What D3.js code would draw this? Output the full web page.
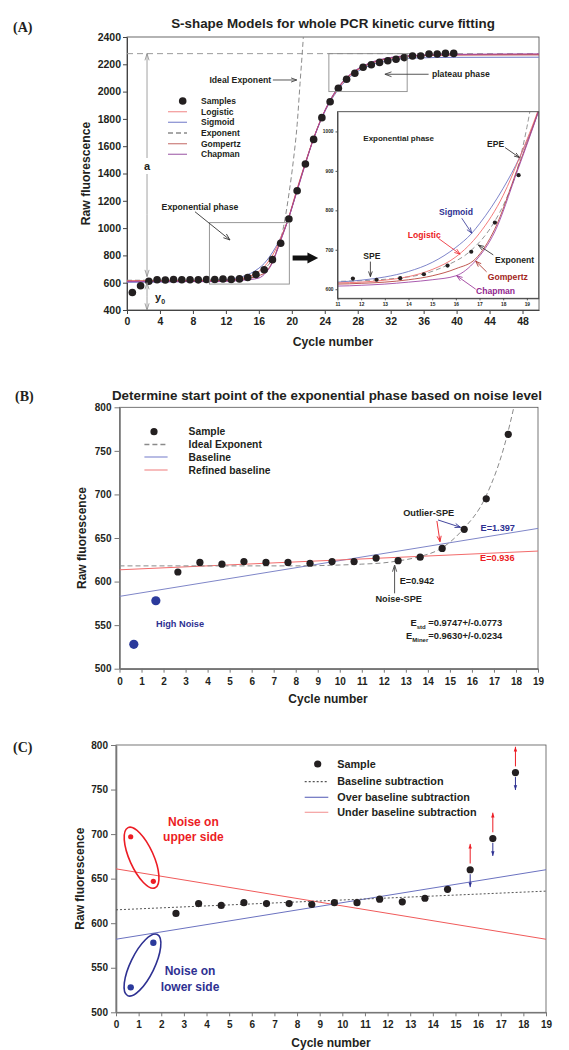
<!DOCTYPE html>
<html><head><meta charset="utf-8">
<script src="https://cdn.jsdelivr.net/npm/d3@7/dist/d3.min.js"></script>
<style>html,body{margin:0;padding:0;background:#fff}</style>
</head><body>
<script>
// ================= DATA =================
// plotted cycle positions of the samples and their raw fluorescence
const cyclePos = [0.65,1.65,2.65,3.65,4.65,5.65,6.65,7.65,8.65,9.65,10.65,11.65,12.65,13.65,14.65,15.65,16.65,17.65,18.65,19.65,20.65,21.65,22.65,23.65,24.65,25.65,26.65,27.65,28.65,29.65,30.65,31.65,32.65,33.65,34.65,35.65,36.65,37.65,38.65,39.65];
const fluorescence = [528,578,611,622,620,623,622,622,621,623,623,627,624,628,638,660,695,769,889,1067,1274,1470,1650,1809,1926,2024,2090,2134,2178,2197,2214,2226,2237,2249,2261,2261,2275,2275,2280,2280];

// fitted model curves [cycle, fluorescence]
const logisticFit = [[0,614],[6,614],[10,615],[11,616],[12,618],[13,623],[14,632],[15,650],[16,682],[17,742],[18,838],[18.7,935],[19.5,1058],[20.65,1290],[21.65,1480],[22.65,1660],[23.65,1812],[24.65,1932],[25.65,2025],[26.65,2095],[27.65,2145],[28.65,2182],[30,2215],[32,2245],[35,2263],[40,2271],[50,2273]];
const sigmoidFit = [[0,603],[6,607],[10,614],[11,618],[12,623],[13,631],[14,645],[15,668],[16,706],[16.66,741],[17,766],[18,856],[18.7,935],[19.5,1052],[20.65,1282],[21.65,1478],[22.65,1655],[23.65,1805],[24.65,1925],[25.65,2015],[26.65,2085],[27.65,2135],[28.65,2170],[30,2203],[32,2232],[35,2246],[40,2251],[50,2252]];
const gompertzFit = [[0,611],[6,612],[10,613],[11,613],[12,615],[13,618],[14,624],[15,634],[16,652],[16.83,677],[17.64,752],[18.57,900],[19.5,1054],[20.65,1278],[21.65,1474],[22.65,1657],[23.65,1812],[24.65,1935],[25.65,2030],[26.65,2100],[27.65,2150],[28.65,2185],[30,2218],[32,2246],[35,2262],[40,2268],[50,2269]];
const chapmanFit = [[0,608],[6,608],[10,608],[11,608],[12,610],[13,613],[14,618],[15,624],[16,634],[16.83,672],[17.64,745],[18.57,895],[19.5,1052],[20.65,1272],[21.65,1470],[22.65,1655],[23.65,1812],[24.65,1938],[25.65,2033],[26.65,2103],[27.65,2153],[28.65,2188],[30,2222],[32,2250],[35,2266],[40,2273],[50,2276]];
const exponentFit = [[0,618],[8,618],[10,619],[11,620],[12,621.5],[12.6,623.5],[13.6,628.5],[14.6,638],[15.6,660],[16.6,696],[17.6,768],[18.1,825],[18.6,905],[19,1010],[19.65,1250],[20.2,1500],[20.65,1760],[21.0,2060],[21.4,2400],[21.6,2600]];
const plateauLevel = 2278;

// panel B / C straight lines [cycle, fluorescence]
const baselineB = [[0,583],[19,661]];
const refinedBaselineB = [[0,613.5],[19,635]];
const baselineSubC = [[0,615],[19,636]];
const overSubC = [[0,582],[19,660]];
const underSubC = [[0,661],[19,582]];
const upperNoiseC = [697,647];   // noise on upper side (cycles 1-2)
const arrowIdxC = [15,16,17];     // samples marked with up/down arrows

// tick labels
const xTicksA = [0,4,8,12,16,20,24,28,32,36,40,44,48];
const yTicksA = [400,600,800,1000,1200,1400,1600,1800,2000,2200,2400];
const xTicksInset = [11,12,13,14,15,16,17,18,19];
const yTicksInset = [600,700,800,900,1000];
const xTicksBC = [0,1,2,3,4,5,6,7,8,9,10,11,12,13,14,15,16,17,18,19];
const yTicksBC = [500,550,600,650,700,750,800];

// ================= HELPERS =================
const FONT = "'Liberation Sans', Arial, Helvetica, sans-serif";
const SERIF = "'Liberation Serif', 'Times New Roman', serif";
const INK = "#231f20";
const RED = "#ec1c24", BLUE = "#2e3192", BROWN = "#a3261c", PURPLE = "#92278f";
const fmt = d3.format("d");

const svg = d3.select("body").append("svg").attr("width",569).attr("height",1050)
  .style("display","block").style("background","#fff");
const defs = svg.append("defs");

function txt(g, x, y, s, o = {}) {
  return g.append("text").attr("x", x).attr("y", y).attr("dy", o.dy ?? "0.35em")
    .attr("font-family", o.family || FONT).attr("font-weight", o.weight || "bold")
    .attr("font-size", o.size || 10).attr("fill", o.color || INK)
    .attr("text-anchor", o.anchor || "start").text(s);
}
function arrow(g, x1, y1, x2, y2, color, o = {}) {
  const w = o.w || 0.9, L = o.head || 6, a = o.ang || 0.42;
  g.append("line").attr("x1",x1).attr("y1",y1).attr("x2",x2).attr("y2",y2)
    .attr("stroke",color).attr("stroke-width",w);
  const t = Math.atan2(y2 - y1, x2 - x1);
  const p1 = [x2 - L*Math.cos(t - a), y2 - L*Math.sin(t - a)];
  const p2 = [x2 - L*Math.cos(t + a), y2 - L*Math.sin(t + a)];
  if (o.filled) {
    g.append("path").attr("d", `M${p1}L${x2},${y2}L${p2}Z`).attr("fill", color);
  } else {
    g.append("path").attr("d", `M${p1}L${x2},${y2}L${p2}`).attr("fill","none")
      .attr("stroke",color).attr("stroke-width",w);
  }
}
function styleAxis(sel, fs, col, w) {
  sel.select(".domain").attr("stroke", col).attr("stroke-width", w);
  sel.selectAll(".tick line").attr("stroke", col).attr("stroke-width", Math.min(w, 1));
  sel.selectAll(".tick text").attr("font-family", FONT).attr("font-weight","bold")
    .attr("font-size", fs).attr("fill", INK);
}
function clipFor(id, x, y) {
  defs.append("clipPath").attr("id", id).append("rect")
    .attr("x", x.range()[0]).attr("y", y.range()[1])
    .attr("width", x.range()[1] - x.range()[0]).attr("height", y.range()[0] - y.range()[1]);
  return `url(#${id})`;
}
function frameRect(g, x, y, col, w) {
  g.append("rect").attr("x", x.range()[0]).attr("y", y.range()[1])
    .attr("width", x.range()[1] - x.range()[0]).attr("height", y.range()[0] - y.range()[1])
    .attr("fill","none").attr("stroke", col).attr("stroke-width", w);
}
const lineOf = (x, y, curve) => d3.line().x(d => x(d[0])).y(d => y(d[1])).curve(curve || d3.curveMonotoneX);

// ================= PANEL A =================
const xA = d3.scaleLinear().domain([0,50]).range([127,539]);
const yA = d3.scaleLinear().domain([400,2400]).range([310,37]);
const gA = svg.append("g");
const clipA = clipFor("clipA", xA, yA);

txt(gA, 13, 27, "(A)", {family: SERIF, size: 14});
txt(gA, 333, 23, "S-shape Models for whole PCR kinetic curve fitting", {size: 13.4, anchor: "middle"});

frameRect(gA, xA, yA, "#444", 0.8);
gA.append("g").attr("transform", `translate(0,${yA.range()[0]})`)
  .call(d3.axisBottom(xA).tickValues(xTicksA).tickFormat(fmt).tickSize(4).tickSizeOuter(0).tickPadding(4))
  .call(s => styleAxis(s, 10.5, "#444", 1));
gA.append("g").attr("transform", `translate(${xA.range()[0]},0)`)
  .call(d3.axisLeft(yA).tickValues(yTicksA).tickFormat(fmt).tickSize(4).tickSizeOuter(0).tickPadding(2))
  .call(s => styleAxis(s, 10.5, "#444", 1));
txt(gA, 333, 342, "Cycle number", {size: 12.2, anchor: "middle"});
txt(gA, 0, 0, "Raw fluorescence", {size: 12.2, anchor: "middle"})
  .attr("transform", `translate(86,${(yA.range()[0] + yA.range()[1]) / 2}) rotate(-90)`);

const models = [
  {name: "Logistic", data: logisticFit, color: "#f26d6d", leg: "#f4a0a0"},
  {name: "Sigmoid", data: sigmoidFit, color: "#7077c4", leg: "#8f96d4"},
  {name: "Exponent", data: exponentFit, color: "#8a8a8a", leg: "#8a8a8a", dash: "5,3"},
  {name: "Gompertz", data: gompertzFit, color: "#b9463f", leg: "#d08a86"},
  {name: "Chapman", data: chapmanFit, color: "#a04aa6", leg: "#b07ab8"}
];
const drawOrder = [2, 1, 0, 3, 4];

const plotA = gA.append("g").attr("clip-path", clipA);
plotA.append("line").attr("x1", xA(0)).attr("x2", xA(50)).attr("y1", yA(plateauLevel)).attr("y2", yA(plateauLevel))
  .attr("stroke", "#9a9a9a").attr("stroke-width", 1).attr("stroke-dasharray", "6,4");
drawOrder.forEach(i => {
  const m = models[i];
  plotA.append("path").attr("d", lineOf(xA, yA)(m.data)).attr("fill","none")
    .attr("stroke", m.color).attr("stroke-width", 1).attr("stroke-dasharray", m.dash || null);
});
plotA.selectAll("circle.s").data(cyclePos).join("circle")
  .attr("cx", d => xA(d)).attr("cy", (d, i) => yA(fluorescence[i])).attr("r", 3.8).attr("fill", INK);

// boxes
const boxStyle = s => s.attr("fill","none").attr("stroke","#8c8c8c").attr("stroke-width",0.9);
gA.append("rect").attr("x", xA(24.5)).attr("y", yA(plateauLevel)).attr("width", xA(34) - xA(24.5))
  .attr("height", yA(2000) - yA(plateauLevel)).call(boxStyle);
gA.append("rect").attr("x", xA(10)).attr("y", yA(1040)).attr("width", xA(19.7) - xA(10))
  .attr("height", yA(590) - yA(1040)).call(boxStyle);

// a and y0 arrows
const ax = xA(2.43);
arrow(gA, ax, yA(1100), ax, yA(plateauLevel), "#8c8c8c", {w: 0.8, head: 7, ang: 0.3});
arrow(gA, ax, yA(1100), ax, yA(645), "#8c8c8c", {w: 0.8, head: 7, ang: 0.3});
gA.append("rect").attr("x", ax - 5).attr("y", yA(1455) - 8).attr("width", 10).attr("height", 16).attr("fill", "#fff");
txt(gA, ax, yA(1455), "a", {size: 11, anchor: "middle"});
arrow(gA, ax, yA(500), ax, yA(600), "#8c8c8c", {w: 0.8, head: 7, ang: 0.3});
arrow(gA, ax, yA(500), ax, yA(400), "#8c8c8c", {w: 0.8, head: 7, ang: 0.3});
const y0t = txt(gA, xA(3.4), yA(495), "y", {size: 11});
y0t.append("tspan").attr("font-size", 7).attr("dy", 3).text("0");

// text annotations A
txt(gA, xA(17.5), yA(2085), "Ideal Exponent", {size: 8.7, anchor: "end"});
arrow(gA, xA(17.7), yA(2085), xA(20.6), yA(2085), "#444", {w: 0.9, head: 6, ang: 0.35});
txt(gA, xA(37), yA(2127), "plateau phase", {size: 8.7});
arrow(gA, xA(36.6), yA(2127), xA(31.3), yA(2127), "#444", {w: 0.9, head: 7, ang: 0.35});
txt(gA, xA(4.2), yA(1157), "Exponential phase", {size: 8.7});
arrow(gA, xA(8.25), yA(1120), xA(12.5), yA(913), "#333", {w: 0.9, head: 7, ang: 0.35});

// big black arrow
{
  const x1 = xA(20.1), x2 = xA(23.2), xm = xA(21.9), yc = yA(781);
  gA.append("path").attr("d", `M${x1},${yc-2.5}L${xm},${yc-2.5}L${xm},${yc-5.5}L${x2},${yc}L${xm},${yc+5.5}L${xm},${yc+2.5}L${x1},${yc+2.5}Z`)
    .attr("fill", "#111");
}

// legend A
{
  const lx0 = 168, lx1 = 187, tx = 201, ys = [101, 111.7, 122.3, 133, 143.7, 154.3];
  gA.append("circle").attr("cx", 182.7).attr("cy", ys[0]).attr("r", 3.8).attr("fill", INK);
  txt(gA, tx, ys[0], "Samples", {size: 8.5});
  models.forEach((m, i) => {
    gA.append("line").attr("x1", lx0).attr("x2", lx1).attr("y1", ys[i+1]).attr("y2", ys[i+1])
      .attr("stroke", m.leg).attr("stroke-width", 1.3).attr("stroke-dasharray", m.dash || null);
    txt(gA, tx, ys[i+1], m.name, {size: 8.5});
  });
}

// ---- inset ----
const xI = d3.scaleLinear().domain([11,19.5]).range([337.5,538.7]);
const yI = d3.scaleLinear().domain([577,1050]).range([298.3,111.7]);
const gI = svg.append("g");
gI.append("rect").attr("x", 337.5).attr("y", 111.7).attr("width", 538.7-337.5).attr("height", 298.3-111.7).attr("fill","#fff");
const clipI = clipFor("clipI", xI, yI);
const plotI = gI.append("g").attr("clip-path", clipI);
drawOrder.forEach(i => {
  const m = models[i];
  plotI.append("path").attr("d", lineOf(xI, yI)(m.data)).attr("fill","none")
    .attr("stroke", m.color).attr("stroke-width", 0.9).attr("stroke-dasharray", m.dash || null);
});
plotI.selectAll("circle").data(cyclePos.filter(c => c > 11 && c < 19.5)).join("circle")
  .attr("cx", d => xI(d)).attr("cy", d => yI(fluorescence[cyclePos.indexOf(d)])).attr("r", 2.1).attr("fill", INK);
frameRect(gI, xI, yI, "#444", 0.9);
gI.append("g").attr("transform", `translate(0,${yI.range()[0]})`)
  .call(d3.axisBottom(xI).tickValues(xTicksInset).tickFormat(fmt).tickSize(2).tickSizeOuter(0).tickPadding(2))
  .call(s => styleAxis(s, 4.8, "#444", 0.9));
gI.append("g").attr("transform", `translate(${xI.range()[0]},0)`)
  .call(d3.axisLeft(yI).tickValues(yTicksInset).tickFormat(fmt).tickSize(2).tickSizeOuter(0).tickPadding(2))
  .call(s => styleAxis(s, 4.8, "#444", 0.9));

txt(gI, xI(12.09), yI(982), "Exponential phase", {size: 8});
txt(gI, xI(17.32), yI(967), "EPE", {size: 8.5});
arrow(gI, xI(18.08), yI(959), xI(18.68), yI(934), INK, {w: 0.8, head: 5.5, ang: 0.35});
txt(gI, xI(15.29), yI(796), "Sigmoid", {size: 8.6, color: BLUE});
arrow(gI, xI(16.25), yI(780), xI(16.67), yI(742), BLUE, {w: 0.8, head: 6, ang: 0.35});
txt(gI, xI(13.97), yI(737), "Logistic", {size: 8.6, color: RED});
arrow(gI, xI(15.26), yI(729), xI(16.18), yI(689), RED, {w: 0.8, head: 6, ang: 0.35});
txt(gI, xI(12.09), yI(685), "SPE", {size: 8.6});
arrow(gI, xI(12.39), yI(670), xI(12.39), yI(632), INK, {w: 0.8, head: 5.5, ang: 0.35});
txt(gI, xI(17.65), yI(674), "Exponent", {size: 8.6});
arrow(gI, xI(17.58), yI(687), xI(16.95), yI(712), INK, {w: 0.8, head: 6, ang: 0.35});
txt(gI, xI(17.35), yI(632), "Gompertz", {size: 8.6, color: BROWN});
arrow(gI, xI(17.3), yI(644), xI(16.84), yI(671), BROWN, {w: 0.8, head: 6, ang: 0.35});
txt(gI, xI(16.85), yI(595.5), "Chapman", {size: 8.6, color: PURPLE});
arrow(gI, xI(16.84), yI(600), xI(16.04), yI(634), PURPLE, {w: 0.8, head: 6, ang: 0.35});

// ================= PANEL B =================
const xB = d3.scaleLinear().domain([0,19]).range([119.5,538]);
const yB = d3.scaleLinear().domain([500,800]).range([668.7,407.3]);
const gB = svg.append("g");
const clipB = clipFor("clipB", xB, yB);
txt(gB, 15, 396, "(B)", {family: SERIF, size: 14});
txt(gB, 327, 395.3, "Determine start point of the exponential phase based on noise level", {size: 13.4, anchor: "middle"});
frameRect(gB, xB, yB, "#555", 0.8);
gB.append("g").attr("transform", `translate(0,${yB.range()[0]})`)
  .call(d3.axisBottom(xB).tickValues(xTicksBC).tickFormat(fmt).tickSize(4).tickSizeOuter(0).tickPadding(5))
  .call(s => styleAxis(s, 10, "#777", 1.6));
gB.append("g").attr("transform", `translate(${xB.range()[0]},0)`)
  .call(d3.axisLeft(yB).tickValues(yTicksBC).tickFormat(fmt).tickSize(5).tickSizeOuter(0).tickPadding(3))
  .call(s => styleAxis(s, 10, "#777", 1.6));
txt(gB, 328, 698.3, "Cycle number", {size: 12, anchor: "middle"});
txt(gB, 0, 0, "Raw fluorescence", {size: 12, anchor: "middle"})
  .attr("transform", `translate(82,${(yB.range()[0] + yB.range()[1]) / 2}) rotate(-90)`);

const plotB = gB.append("g").attr("clip-path", clipB);
plotB.append("path").attr("d", lineOf(xB, yB, d3.curveLinear)(baselineB)).attr("fill","none").attr("stroke","#7f86c8").attr("stroke-width",1);
plotB.append("path").attr("d", lineOf(xB, yB, d3.curveLinear)(refinedBaselineB)).attr("fill","none").attr("stroke","#f26b6b").attr("stroke-width",1);
plotB.append("path").attr("d", lineOf(xB, yB)(exponentFit)).attr("fill","none").attr("stroke","#8a8a8a").attr("stroke-width",1).attr("stroke-dasharray","5,3");
const nB = 18;
plotB.selectAll("circle.b").data(cyclePos.slice(0, nB)).join("circle")
  .attr("cx", d => xB(d)).attr("cy", (d, i) => yB(fluorescence[i]))
  .attr("r", (d, i) => i < 2 ? 4.6 : 3.6).attr("fill", (d, i) => i < 2 ? "#2b3a9c" : INK);

// legend B
{
  const ys = [431.7, 444.5, 457, 470];
  gB.append("circle").attr("cx", 154).attr("cy", ys[0]).attr("r", 3.6).attr("fill", INK);
  txt(gB, 188.6, ys[0], "Sample", {size: 10.3});
  const items = [["Ideal Exponent", "#8a8a8a", "5,3"], ["Baseline", "#9aa0d8", null], ["Refined baseline", "#f4a0a0", null]];
  items.forEach((it, i) => {
    gB.append("line").attr("x1", 144.4).attr("x2", 167.6).attr("y1", ys[i+1]).attr("y2", ys[i+1])
      .attr("stroke", it[1]).attr("stroke-width", 1.4).attr("stroke-dasharray", it[2]);
    txt(gB, 188.6, ys[i+1], it[0], {size: 10.3});
  });
}
// annotations B
txt(gB, xB(12.88), yB(679), "Outlier-SPE", {size: 9.2});
arrow(gB, xB(14.41), yB(669.5), xB(14.55), yB(645.8), RED, {w: 0.9, head: 6, ang: 0.35});
arrow(gB, xB(14.46), yB(670.7), xB(15.48), yB(662.3), BLUE, {w: 0.9, head: 6, ang: 0.35});
txt(gB, xB(16.39), yB(662.3), "E=1.397", {size: 9.2, color: BLUE});
txt(gB, xB(16.37), yB(627.4), "E=0.936", {size: 9.2, color: RED});
txt(gB, xB(12.72), yB(601), "E=0.942", {size: 9.2});
arrow(gB, xB(12.49), yB(586.5), xB(12.49), yB(619), "#555", {w: 1, head: 7, ang: 0.3});
txt(gB, xB(11.62), yB(580.8), "Noise-SPE", {size: 9.2});
txt(gB, xB(1.66), yB(552), "High Noise", {size: 9.2, color: BLUE});
{
  const t1 = txt(gB, xB(17.38), yB(553.3), "E", {size: 9.4, anchor: "end"});
  t1.append("tspan").attr("font-size", 6).attr("dy", 3).text("std");
  t1.append("tspan").attr("dy", -3).text(" =0.9747+/-0.0773");
  const t2 = txt(gB, xB(17.38), yB(537.5), "E", {size: 9.4, anchor: "end"});
  t2.append("tspan").attr("font-size", 6).attr("dy", 3).text("Miner");
  t2.append("tspan").attr("dy", -3).text("=0.9630+/-0.0234");
}

// ================= PANEL C =================
const xC = d3.scaleLinear().domain([0,19]).range([116,546]);
const yC = d3.scaleLinear().domain([500,800]).range([1012.3,745]);
const gC = svg.append("g");
const clipC = clipFor("clipC", xC, yC);
txt(gC, 13, 747, "(C)", {family: SERIF, size: 14});
frameRect(gC, xC, yC, "#555", 0.8);
gC.append("g").attr("transform", `translate(0,${yC.range()[0]})`)
  .call(d3.axisBottom(xC).tickValues(xTicksBC).tickFormat(fmt).tickSize(4).tickSizeOuter(0).tickPadding(5))
  .call(s => styleAxis(s, 10, "#777", 1.6));
gC.append("g").attr("transform", `translate(${xC.range()[0]},0)`)
  .call(d3.axisLeft(yC).tickValues(yTicksBC).tickFormat(fmt).tickSize(5).tickSizeOuter(0).tickPadding(3))
  .call(s => styleAxis(s, 10, "#777", 1.6));
txt(gC, 331, 1043, "Cycle number", {size: 12, anchor: "middle"});
txt(gC, 0, 0, "Raw fluorescence", {size: 12, anchor: "middle"})
  .attr("transform", `translate(80,${(yC.range()[0] + yC.range()[1]) / 2}) rotate(-90)`);

const plotC = gC.append("g").attr("clip-path", clipC);
plotC.append("path").attr("d", lineOf(xC, yC, d3.curveLinear)(underSubC)).attr("fill","none").attr("stroke","#f05a5a").attr("stroke-width",1);
plotC.append("path").attr("d", lineOf(xC, yC, d3.curveLinear)(overSubC)).attr("fill","none").attr("stroke","#6b72c0").attr("stroke-width",1);
plotC.append("path").attr("d", lineOf(xC, yC, d3.curveLinear)(baselineSubC)).attr("fill","none").attr("stroke","#555").attr("stroke-width",1).attr("stroke-dasharray","2,2");
plotC.selectAll("circle.c").data(cyclePos.slice(0, nB)).join("circle")
  .attr("cx", d => xC(d)).attr("cy", (d, i) => yC(fluorescence[i]))
  .attr("r", (d, i) => i < 2 ? 3.2 : 3.6).attr("fill", (d, i) => i < 2 ? "#2b3a9c" : INK);
plotC.selectAll("circle.u").data(cyclePos.slice(0, 2)).join("circle")
  .attr("cx", d => xC(d)).attr("cy", (d, i) => yC(upperNoiseC[i])).attr("r", 2.6).attr("fill", RED);

// ellipses
gC.append("ellipse").attr("cx", 0).attr("cy", 0).attr("rx", 33).attr("ry", 12)
  .attr("transform", `translate(${xC(1.13)},${yC(673.5)}) rotate(65.8)`)
  .attr("fill","none").attr("stroke", RED).attr("stroke-width", 1.6);
gC.append("ellipse").attr("cx", 0).attr("cy", 0).attr("rx", 34).attr("ry", 12)
  .attr("transform", `translate(${xC(1.17)},${yC(553)}) rotate(-64)`)
  .attr("fill","none").attr("stroke", BLUE).attr("stroke-width", 1.6);
txt(gC, xC(3.42), yC(713.9), "Noise on", {size: 12, color: RED, anchor: "middle"});
txt(gC, xC(3.42), yC(697.1), "upper side", {size: 12, color: RED, anchor: "middle"});
txt(gC, xC(3.27), yC(546.4), "Noise on", {size: 12, color: BLUE, anchor: "middle"});
txt(gC, xC(3.27), yC(528.7), "lower side", {size: 12, color: BLUE, anchor: "middle"});

// up / down arrows on exponential samples
arrowIdxC.forEach(i => {
  const cx = xC(cyclePos[i]), v = fluorescence[i];
  arrow(gC, cx, yC(v + 7), cx, yC(v + 29), RED, {w: 1, head: 5, ang: 0.35, filled: true});
  arrow(gC, cx, yC(v - 5), cx, yC(v - 19.5), BLUE, {w: 1, head: 5, ang: 0.35, filled: true});
});

// legend C
{
  const ys = [764, 781.7, 797.3, 812.3];
  gC.append("circle").attr("cx", 317.7).attr("cy", ys[0]).attr("r", 3.6).attr("fill", INK);
  txt(gC, 337.3, ys[0], "Sample", {size: 10.8});
  const items = [["Baseline subtraction", "#555", "2,2"], ["Over baseline subtraction", "#6b72c0", null], ["Under baseline subtraction", "#f4a0a0", null]];
  items.forEach((it, i) => {
    gC.append("line").attr("x1", 304.7).attr("x2", 328.3).attr("y1", ys[i+1]).attr("y2", ys[i+1])
      .attr("stroke", it[1]).attr("stroke-width", 1.2).attr("stroke-dasharray", it[2]);
    txt(gC, 337.3, ys[i+1], it[0], {size: 10.8});
  });
}
</script>
</body></html>
